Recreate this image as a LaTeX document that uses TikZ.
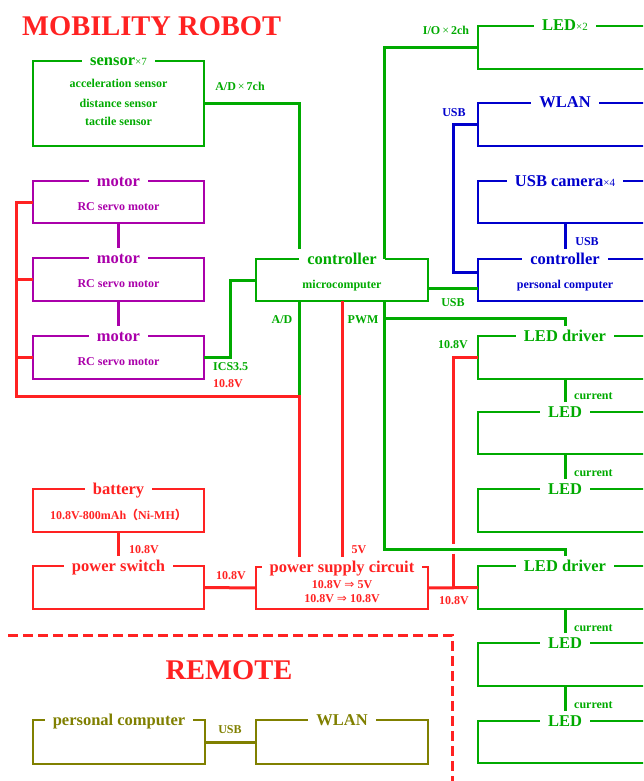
\documentclass[tikz,border=0pt]{standalone}
\usepackage{fontspec}
\setmainfont{Liberation Serif}
\newfontfamily\cjk{Noto Sans CJK JP}
\newfontfamily\symf{DejaVu Sans}
\usetikzlibrary{calc}
\definecolor{cg}{RGB}{0,170,0}
\definecolor{cr}{RGB}{255,34,34}
\definecolor{cb}{RGB}{0,0,204}
\definecolor{cp}{RGB}{170,0,170}
\definecolor{co}{RGB}{128,128,0}
\newcommand{\fbig}{\fontsize{28.5}{30}\selectfont\bfseries}
\newcommand{\fttl}{\fontsize{16.5}{18}\selectfont\bfseries}
\newcommand{\fsm}{\fontsize{12}{13}\selectfont\bfseries}
\newcommand{\fxx}{\fontsize{11}{12}\selectfont\mdseries}
\newcommand{\tms}{{\mdseries\,×\,}}
\begin{document}
\begin{tikzpicture}[x=1pt,y=-1pt,
  bx/.style={draw=#1, line width=2pt, inner sep=0pt, outer sep=0pt, minimum height=43pt},
  lbx/.style={bx=#1, minimum width=171pt},
  mbx/.style={bx=#1, minimum width=172pt},
  rbx/.style={bx=#1, minimum width=174pt},
  ttl/.style={fill=white, text=#1, font=\fttl, inner xsep=8pt, inner ysep=3pt, text height=12pt, text depth=3pt, anchor=base, yshift=-5pt},
  bd/.style={text=#1, font=\fsm, anchor=base, inner sep=0pt},
  lbw/.style={text=#1, font=\fsm, anchor=base west, inner sep=0pt},
  wire/.style={draw=#1, line width=3pt},
  big/.style={text=cr, font=\fbig, inner sep=0pt}
]
\useasboundingbox (0,0) rectangle (643,781);
\clip (0,0) rectangle (643,781);

% titles
\node[big, anchor=base west] (mtitle) at (22,36) {MOBILITY ROBOT};
\node[big, anchor=base] (rtitle) at (229,679) {REMOTE};

% left column
\node[lbx=cg, minimum height=85pt] (sensor) at (118.5,103.5) {};
\node[ttl=cg] (sensorT) at (sensor.north) {sensor{\fxx ×7}};
\node[bd=cg] (s1) at (118.5,88) {acceleration sensor};
\node[bd=cg] (s2) at (118.5,107) {distance sensor};
\node[bd=cg] (s3) at (118.5,125) {tactile sensor};

\node[lbx=cp, minimum height=42pt] (m1) at (118.5,202) {};
\node[ttl=cp] (m1T) at (m1.north) {motor};
\node[bd=cp] (m1b) at (118.5,210.5) {RC servo motor};
\node[lbx=cp] (m2) at (118.5,279.5) {};
\node[ttl=cp] (m2T) at (m2.north) {motor};
\node[bd=cp] (m2b) at (118.5,287.5) {RC servo motor};
\node[lbx=cp] (m3) at (118.5,357.5) {};
\node[ttl=cp] (m3T) at (m3.north) {motor};
\node[bd=cp] (m3b) at (118.5,365.5) {RC servo motor};

\node[lbx=cr] (bat) at (118.5,510.5) {};
\node[ttl=cr] (batT) at (bat.north) {battery};
\node[bd=cr] (batb) at (118.5,519) {10.8V-800mAh{\cjk （}Ni-MH{\cjk ）}};
\node[lbx=cr] (psw) at (118.5,587.5) {};
\node[ttl=cr] (pswT) at (psw.north) {power switch};

\node[mbx=co, minimum height=44pt] (pc2) at (119,742) {};
\node[ttl=co] (pc2T) at (pc2.north) {personal computer};

% middle column
\node[mbx=cg, minimum height=42pt] (ctrl) at (342,280) {};
\node[ttl=cg] (ctrlT) at (ctrl.north) {controller};
\node[bd=cg] (ctrlb) at (342,288) {microcomputer};

\node[mbx=cr, minimum height=42pt] (psc) at (342,588) {};
\node[ttl=cr] (pscT) at (psc.north) {power supply circuit};
\node[bd=cr] (psc1) at (342,588) {10.8V {\mdseries\symf ⇒} 5V};
\node[bd=cr] (psc2) at (342,602) {10.8V {\mdseries\symf ⇒} 10.8V};

\node[mbx=co, minimum height=44pt] (wl2) at (342,742) {};
\node[ttl=co] (wl2T) at (wl2.north) {WLAN};

% right column
\node[rbx=cg] (led2) at (565,47.5) {};
\node[ttl=cg] (led2T) at (led2.north) {LED{\fxx ×2}};
\node[rbx=cb] (wlan) at (565,124.5) {};
\node[ttl=cb] (wlanT) at (wlan.north) {WLAN};
\node[rbx=cb, minimum height=42pt] (cam) at (565,202) {};
\node[ttl=cb] (camT) at (cam.north) {USB camera{\fxx ×4}};
\node[rbx=cb, minimum height=42pt] (pcb) at (565,280) {};
\node[ttl=cb] (pcbT) at (pcb.north) {controller};
\node[bd=cb] (pcbb) at (565,288) {personal computer};
\node[rbx=cg] (drv1) at (565,357.5) {};
\node[ttl=cg] (drv1T) at (drv1.north) {LED driver};
\node[rbx=cg, minimum height=42pt] (leda) at (565,433) {};
\node[ttl=cg] (ledaT) at (leda.north) {LED};
\node[rbx=cg] (ledb) at (565,510.5) {};
\node[ttl=cg] (ledbT) at (ledb.north) {LED};
\node[rbx=cg] (drv2) at (565,587.5) {};
\node[ttl=cg] (drv2T) at (drv2.north) {LED driver};
\node[rbx=cg] (ledc) at (565,664.5) {};
\node[ttl=cg] (ledcT) at (ledc.north) {LED};
\node[rbx=cg, minimum height=42pt] (ledd) at (565,742) {};
\node[ttl=cg] (leddT) at (ledd.north) {LED};

% connectors
\draw[wire=cg] (sensor.east) -| (ctrlT.north west);
\draw[wire=cg] (ctrl.north -| ctrlT.east) |- (led2.west);
\coordinate (u1) at (453,124.5);
\draw[wire=cb] (wlan.west) -- (u1) |- ($(pcb.north west)+(0,13)$);
\draw[wire=cb] (cam.south) -- (pcbT.north);
\draw[wire=cg] ($(ctrl.south east)+(0,-13)$) -- ($(pcb.south west)+(0,-13)$);
\draw[wire=cg] (m3.east) -- ++(26,0) |- (ctrl.west);
\draw[wire=cp] (m1.south) -- (m2T.north);
\draw[wire=cp] (m2.south) -- (m3T.north);

\coordinate (adb) at (ctrlT.west |- 0,396);
\coordinate (busb) at (16,396);
\draw[wire=cg] (ctrl.south -| adb) -- (adb);
\draw[wire=cr] (m1.west) -| (busb) -- (adb) -- (pscT.north -| adb);
\draw[wire=cr] (m2.west) -- (m2.west -| busb);
\draw[wire=cr] (m3.west) -- (m3.west -| busb);
\draw[wire=cr] (ctrl.south) -- (pscT.north);

\coordinate (pwmtop) at (ctrl.south -| ctrlT.east);
\draw[wire=cg] (pwmtop) -- ++(0,248) -| (drv2T.north);
\draw[wire=cg] (pwmtop) ++(0,17) -| (drv1T.north);

\draw[wire=cr] (drv1.west) -- ++(-25,0) coordinate (rv1) -- ++(0,186);
\draw[wire=cr] (psc.east) -- (drv2.west);
\draw[wire=cr] ($(rv1)+(0,196)$) -- (rv1 |- drv2.west);

\draw[wire=cr] (bat.south) -- (pswT.north);
\draw[wire=cr] (psw.east) -- (psc.west);
\draw[wire=co] (pc2.east) -- (wl2.west);

\draw[wire=cg] (drv1.south) -- (ledaT.north);
\draw[wire=cg] (leda.south) -- (ledbT.north);
\draw[wire=cg] (drv2.south) -- (ledcT.north);
\draw[wire=cg] (ledc.south) -- (leddT.north);

% remote border
\coordinate (d1) at (8,635);
\coordinate (d2) at (452,635);
\coordinate (d3) at (452,790);
\draw[cr, line width=3pt, dash pattern=on 10pt off 5pt] (d1) -- (d2) -- (d3);

% labels
\node[bd=cg] (l1) at (240,91) {A/D\tms 7ch};
\node[bd=cg] (l2) at (446,35) {I/O\tms 2ch};
\node[bd=cb] (l3) at (454,117) {USB};
\node[bd=cb] (l4) at (587,245) {USB};
\node[bd=cg] (l5) at (453,306) {USB};
\node[bd=cg] (l6) at (282,323) {A/D};
\node[bd=cg] (l7) at (363,323) {PWM};
\node[lbw=cg] (l8) at (213,370) {ICS3.5};
\node[lbw=cr] (l9) at (213,387) {10.8V};
\node[bd=cg] (l10) at (453,348) {10.8V};
\node[lbw=cg] (c1) at (574,399) {current};
\node[lbw=cg] (c2) at (574,476) {current};
\node[lbw=cg] (c3) at (574,631) {current};
\node[lbw=cg] (c4) at (574,708) {current};
\node[bd=cr] (l11) at (359,553) {5V};
\node[bd=cr] (l12) at (231,579) {10.8V};
\node[bd=cr] (l13) at (454,604) {10.8V};
\node[lbw=cr] (l14) at (129,553) {10.8V};
\node[bd=co] (l15) at (230,733) {USB};
\end{tikzpicture}
\end{document}
